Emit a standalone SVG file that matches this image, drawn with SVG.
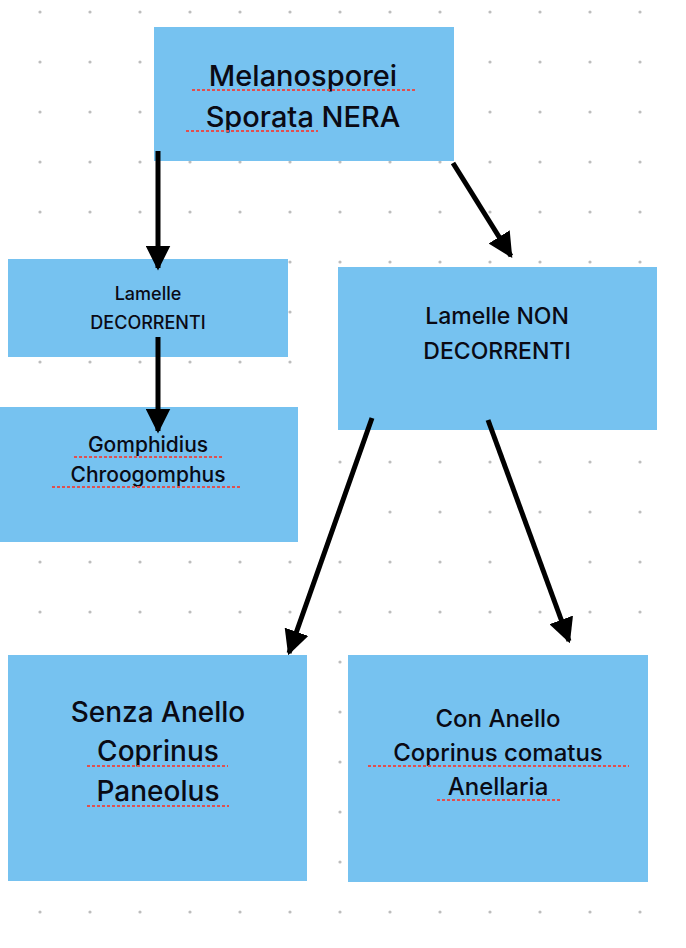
<svg xmlns="http://www.w3.org/2000/svg" width="686" height="948" viewBox="0 0 686 948">
<defs>
<pattern id="dots" x="0" y="0" width="50" height="50" patternUnits="userSpaceOnUse">
<circle cx="40" cy="12" r="1.6" fill="#bdbdbd"/>
</pattern>
<marker id="ah" viewBox="0 0 10 10" refX="9" refY="5" markerWidth="5" markerHeight="5" markerUnits="strokeWidth" orient="auto">
<path d="M0,0 L10,5 L0,10 z" fill="#000"/>
</marker>
<style>
.box{fill:#76c2f0}
.t{font-family:Inter,"Liberation Sans",sans-serif;font-weight:500;fill:#0a0a14;text-anchor:middle}
.u{stroke:#e05050;stroke-width:2;stroke-dasharray:3 2;fill:none}
.c{stroke:#000;stroke-width:5;fill:none}
</style>
</defs>
<rect width="686" height="948" fill="#fff"/>
<rect width="686" height="948" fill="url(#dots)"/>
<g id="n1"><rect class="box" x="154" y="27" width="300" height="134"/>
<text class="t" font-size="29"><tspan x="303" y="86">Melanosporei</tspan><tspan x="303" y="127">Sporata NERA</tspan></text>
<path class="u" d="M192 90 H416 M186 131 H318"/></g>
<g id="n2"><rect class="box" x="8" y="259" width="280" height="98"/>
<text class="t" font-size="18"><tspan x="148" y="300">Lamelle</tspan><tspan x="148" y="329">DECORRENTI</tspan></text></g>
<g id="n3"><rect class="box" x="0" y="407" width="298" height="135"/>
<text class="t" font-size="21"><tspan x="148" y="452">Gomphidius</tspan><tspan x="148" y="482">Chroogomphus</tspan></text>
<path class="u" d="M74 457 H222 M52 487 H241"/></g>
<g id="n4"><rect class="box" x="338" y="267" width="319" height="163"/>
<text class="t" font-size="23"><tspan x="497" y="324">Lamelle NON</tspan><tspan x="497" y="359">DECORRENTI</tspan></text></g>
<g id="n5"><rect class="box" x="8" y="655" width="299" height="226"/>
<text class="t" font-size="28"><tspan x="158" y="722">Senza Anello</tspan><tspan x="158" y="761">Coprinus</tspan><tspan x="158" y="801">Paneolus</tspan></text>
<path class="u" d="M87 766 H228 M87 806 H229"/></g>
<g id="n6"><rect class="box" x="348" y="655" width="300" height="227"/>
<text class="t" font-size="24"><tspan x="498" y="727">Con Anello</tspan><tspan x="498" y="761">Coprinus comatus</tspan><tspan x="498" y="795">Anellaria</tspan></text>
<path class="u" d="M368 766 H629 M437 800 H560"/></g>
<g id="connectors">
<line class="c" x1="158" y1="151" x2="158" y2="268" marker-end="url(#ah)"/>
<line class="c" x1="453" y1="163" x2="511" y2="256" marker-end="url(#ah)"/>
<line class="c" x1="158" y1="337" x2="158" y2="431" marker-end="url(#ah)"/>
<line class="c" x1="372" y1="418" x2="289" y2="653" marker-end="url(#ah)"/>
<line class="c" x1="488" y1="420" x2="569" y2="641" marker-end="url(#ah)"/>
</g>
</svg>
